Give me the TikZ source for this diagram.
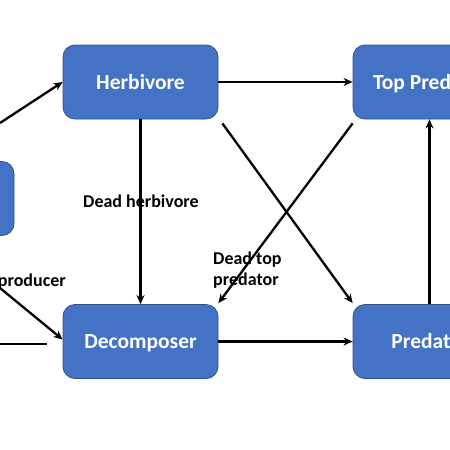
\documentclass[tikz,border=0pt]{standalone}
\usepackage{fontspec}
\setmainfont{Carlito}
\usetikzlibrary{arrows.meta,calc}
\definecolor{boxfill}{HTML}{4472C4}
\definecolor{boxline}{HTML}{2F528F}
\tikzset{
  box/.style={rectangle, rounded corners=12pt, minimum width=155pt, minimum height=74pt,
    fill=boxfill, draw=boxline, line width=0.8pt, text=white, font=\fontsize{21.5}{25}\selectfont\bfseries, inner sep=0pt,
    text height=16pt, text depth=2pt},
  lbl/.style={font=\fontsize{18}{21}\selectfont\bfseries, text=black, inner sep=0pt},
  conn/.style={line width=2.3pt, -{Stealth[length=9pt,width=8pt]}},
  plain/.style={line width=2.3pt}
}
\begin{document}
\begin{tikzpicture}[x=1pt,y=-1pt]
\useasboundingbox (0,0) rectangle (450,450);
\clip (0,0) rectangle (450,450);
\fill[white] (0,0) rectangle (450,450);
\node[box] (herb) at (140.5,82) {Herbivore};
\node[box] (top) at (430.5,82) {Top Predator};
\node[box] (dec) at (140.5,341.5) {Decomposer};
\node[box] (pred) at (430.5,341.5) {Predator};
\node[box] (prod) at (-63.5,198.5) {};
\coordinate (in1) at (0,123);
\coordinate (in2) at (0,288);
\coordinate (l1) at (0,344);
\coordinate (l2) at (47,344);
\draw[conn] (in1) -- (herb.west);
\draw[conn] (herb.east) -- (top.west);
\draw[conn] (herb.south) -- (dec.north);
\draw[conn] ($(herb.south east)+(4,4)$) -- ($(pred.north west)+(0,-1)$);
\draw[conn] ($(top.south west)+(0,4)$) -- ($(dec.north east)+(0,-1)$);
\draw[conn] ($(pred.north)+(-1,0)$) -- ($(top.south)+(-1,0)$);
\draw[conn] (dec.east) -- (pred.west);
\draw[conn] (in2) -- ($(dec.west)+(0,-2)$);
\draw[plain] (l1) -- (l2);
\node[lbl, anchor=west] (ldh) at (83,201) {Dead herbivore};
\node[lbl, anchor=north west, align=left] (ldt) at (213,252) {Dead top\\predator};
\node[lbl, anchor=east] (ldp) at (66,282) {Dead producer};
\end{tikzpicture}
\end{document}
